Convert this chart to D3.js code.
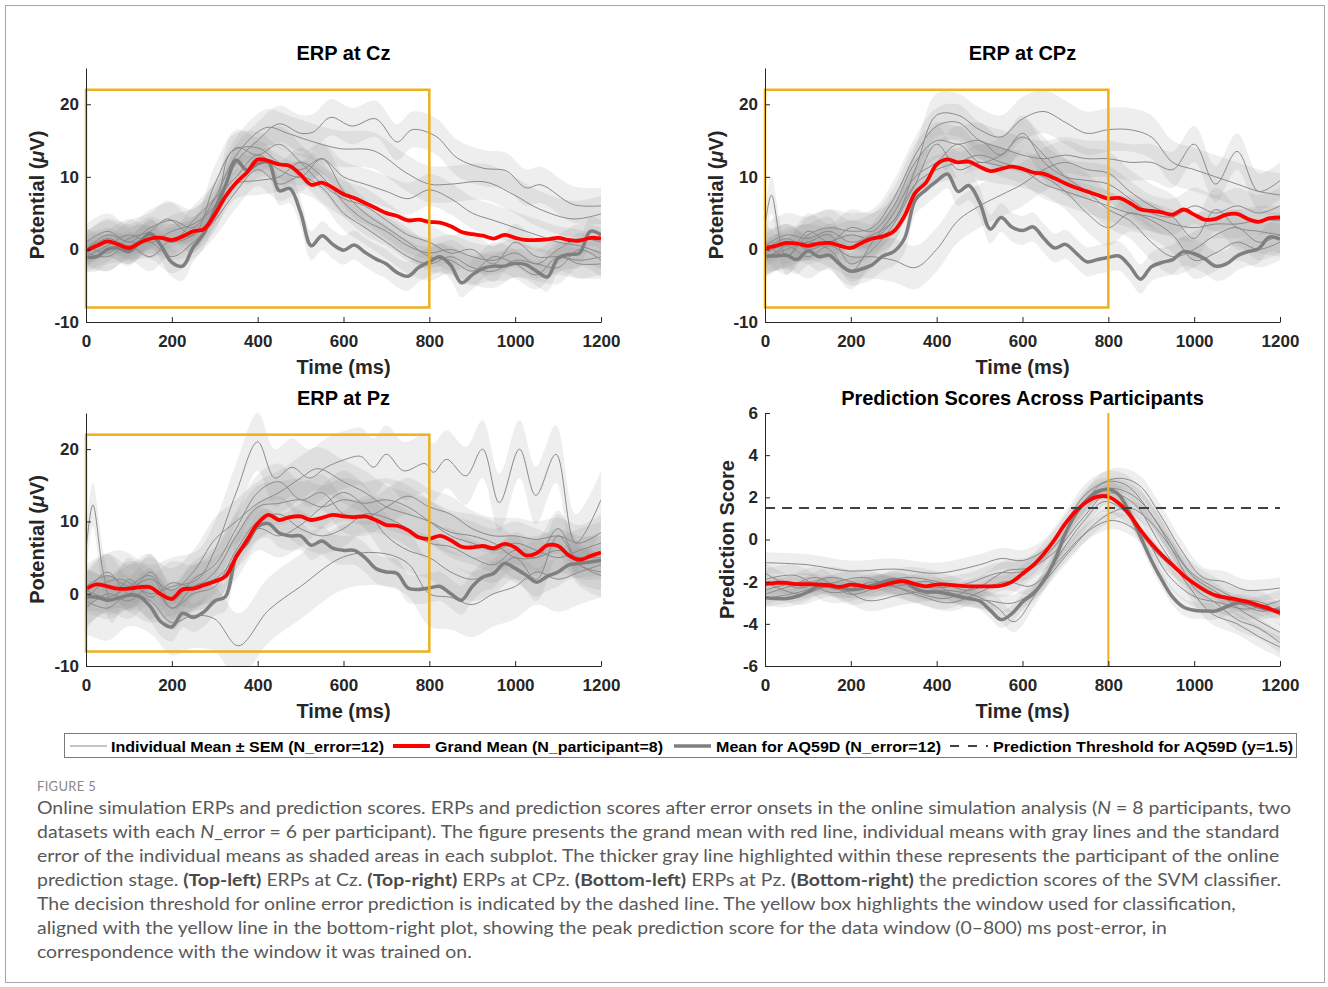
<!DOCTYPE html>
<html><head><meta charset="utf-8">
<script src="https://cdn.jsdelivr.net/npm/d3@7"></script>
<style>body{margin:0;background:#fff}svg{display:block}</style>
</head><body>
<svg id="fig" width="1328" height="987"></svg>
<script>
// ---------------- DATA ----------------
const TIMES = [0,25,50,75,100,125,150,175,200,225,250,275,300,325,350,375,400,425,450,475,500,525,550,575,600,625,650,675,700,725,750,775,800,825,850,875,900,925,950,975,1000,1025,1050,1075,1100,1125,1150,1175,1200];
const X_TICKS = [0,200,400,600,800,1000,1200];
const ERP_Y_TICKS = [-10,0,10,20];
const PRED_Y_TICKS = [-6,-4,-2,0,2,4,6];
const TITLES = ['ERP at Cz','ERP at CPz','ERP at Pz','Prediction Scores Across Participants'];

// Grand means (red)
const CZ_GRAND = [-0.2,0.5,1.1,0.7,0.2,0.9,1.5,1.6,1.3,1.8,2.5,2.8,4.8,7.3,9.2,10.6,12.4,12.2,11.7,11.5,10.3,8.9,9.2,8.5,7.6,7.1,6.4,5.7,5.0,4.6,4.0,4.1,3.8,3.7,3.2,2.4,2.1,1.9,1.5,2.0,1.6,1.3,1.3,1.4,1.6,1.3,1.2,1.6,1.5];
const CPZ_GRAND = [0.2,0.5,0.9,0.8,0.5,0.8,0.9,0.5,0.2,0.9,1.5,1.8,2.5,4.6,7.8,9.2,11.7,12.4,12.0,12.1,11.4,10.8,11.1,11.4,11.1,10.6,10.4,9.8,9.1,8.5,8.0,7.5,7.0,7.1,6.4,5.5,5.3,5.1,4.8,5.5,4.8,4.1,4.2,4.8,4.9,4.2,3.8,4.3,4.4];
const PZ_GRAND = [0.7,1.3,1.0,0.7,0.7,0.9,0.9,-0.1,-0.7,0.6,0.7,1.2,1.7,2.4,5.1,7.4,9.7,10.9,10.2,10.6,10.7,10.2,10.5,10.9,10.7,10.6,10.7,10.2,9.5,9.4,8.8,7.8,7.6,8.0,7.4,6.5,6.4,6.6,6.3,6.9,6.4,5.3,5.6,6.7,6.6,5.3,4.7,5.2,5.7];
const PRED_GRAND = [-2.12,-2.06,-2.06,-2.12,-2.12,-2.14,-2.17,-2.25,-2.14,-2.2,-2.28,-2.17,-2.04,-1.98,-2.12,-2.22,-2.14,-2.14,-2.19,-2.22,-2.22,-2.22,-2.19,-2.01,-1.62,-1.22,-0.67,0,0.76,1.36,1.79,2.03,2.03,1.71,1.16,0.44,-0.19,-0.74,-1.22,-1.7,-2.09,-2.41,-2.65,-2.76,-2.85,-2.96,-3.12,-3.28,-3.49];

// AQ59D participant means (thick gray)
const CZ_AQ = [-1.1,-1.0,0.0,0.2,-0.3,1.0,2.2,0.5,-1.8,-2.3,0.3,2.2,5.5,8.8,12.3,10.9,11.8,12.0,8.1,8.4,5.1,0.5,1.9,0.7,-0.1,0.6,-0.4,-1.3,-2.0,-3.2,-3.7,-2.5,-1.7,-1.0,-2.2,-4.6,-3.5,-2.6,-2.3,-2.3,-1.9,-2.1,-3.0,-3.8,-1.2,-0.7,-0.5,2.5,2.0];
const CPZ_AQ = [-0.9,-0.9,-0.8,-1.4,-0.2,-1.0,-0.8,-2.1,-3.0,-2.7,-2.1,-0.9,-0.3,1.5,6.8,8.2,9.4,10.4,8.0,8.8,6.5,2.8,4.4,3.1,2.6,3.1,1.5,0.2,0.7,-0.5,-1.7,-1.4,-1.1,-0.9,-2.3,-4.1,-2.4,-1.8,-1.4,-0.3,-0.6,-1.3,-2.3,-2.0,-0.9,-0.3,0.1,1.7,1.4];
const PZ_AQ = [-0.4,-0.5,-0.9,-0.6,-0.2,-0.4,-1.8,-3.9,-4.6,-2.7,-3.3,-2.5,-1.0,-0.4,5.2,7.0,9.3,9.7,8.4,8.0,8.0,6.7,7.3,6.3,6.0,6.0,5.0,3.5,3.0,2.8,0.8,0.6,0.8,1.0,0.0,-0.9,1.0,2.3,2.8,4.2,3.5,2.6,1.6,2.4,3.0,4.0,4.2,4.4,4.6];
const PRED_AQ = [-2.76,-2.8,-2.8,-2.69,-2.49,-2.22,-2.22,-2.28,-2.38,-2.33,-2.17,-2.01,-1.9,-2.01,-2.33,-2.49,-2.49,-2.57,-2.69,-2.8,-2.92,-3.36,-3.8,-3.52,-2.96,-2.57,-1.93,-0.98,0.29,1.24,1.87,2.27,2.38,2.11,1.24,0.13,-0.98,-1.93,-2.73,-3.2,-3.36,-3.39,-3.39,-3.2,-3.01,-3.04,-3.2,-3.33,-3.36];

// Other individual means (thin gray), [time, value] points
const CZ_INDIV = [
 [[0,0],[50,1.5],[100,0.5],[150,2],[200,1],[250,2],[300,5],[350,12],[400,15],[450,17.3],[500,16],[530,16.2],[570,18.2],[620,17],[675,18],[725,14.8],[760,16.5],[815,15.6],[865,12.6],[925,11.2],[980,10.8],[1025,8.5],[1060,8.9],[1135,6.2],[1200,6]],
 [[0,1],[50,2.5],[100,1],[150,3],[200,4],[250,3],[300,7],[350,13],[420,16.8],[470,16],[520,15],[590,13.9],[670,13.6],[745,10.6],[800,9],[850,9],[930,9.3],[995,7.6],[1055,5.6],[1135,4.2],[1200,4.9]],
 [[0,-1],[50,0.5],[100,2],[150,1],[200,2.5],[250,3.5],[300,6],[340,13.5],[400,14],[450,12],[500,11],[550,12.5],[600,10],[650,9],[700,8],[750,7],[800,8.2],[850,7],[900,5],[950,4],[1000,3],[1050,2],[1100,1],[1150,0.5],[1200,-0.5]],
 [[0,0.5],[50,-0.5],[100,1.5],[150,2.5],[190,4.2],[250,2],[300,9],[350,14],[400,13],[450,14.5],[500,12],[550,9],[600,7],[650,6],[700,4],[750,2],[800,1],[850,-0.5],[900,0],[950,-2],[1000,1],[1050,-1],[1100,-1],[1150,-1.5],[1200,-1]],
 [[0,0],[50,1],[100,0],[150,2],[200,1],[250,4],[300,7],[350,10],[400,13],[450,11],[500,10],[550,12.5],[600,8],[650,5],[700,3],[750,1],[800,-1],[850,-1.5],[900,-3],[950,-1],[1000,-2],[1050,-3.5],[1100,-1],[1150,-2],[1200,-2]],
 [[0,-0.5],[50,-1],[100,0.5],[150,-1],[200,1.5],[250,2],[300,5],[350,9],[400,9.5],[450,10],[500,12],[550,10],[600,6.5],[650,4],[700,2.5],[750,0.5],[800,-0.5],[850,0],[900,-1],[950,-1.5],[1000,-0.5],[1050,-2],[1100,0],[1150,1.5],[1200,1]],
 [[0,0],[50,2],[100,1],[150,1],[200,-1],[250,1],[300,4],[350,8],[400,11],[450,9],[500,10],[550,8.5],[600,5],[650,3],[700,1],[750,-1],[800,-2],[850,-1],[900,-2.5],[950,-3],[1000,-1.5],[1050,-2],[1100,-2.5],[1150,0],[1200,-1.5]]
];
const CPZ_INDIV = [
 [[0,0.5],[50,2],[100,1.5],[150,2.5],[200,1],[250,2],[300,4],[350,11],[400,18.5],[450,18.5],[500,16.5],[550,15.5],[600,18],[650,19],[700,17.5],[750,16],[800,16.5],[850,16.5],[900,15.5],[950,12],[1000,11],[1050,10],[1100,9],[1150,8],[1200,7.5]],
 [[0,1],[50,-1],[100,2],[150,3],[200,2.5],[250,3],[300,7],[350,13],[400,17],[450,17.5],[500,15],[550,14],[600,13],[650,12.5],[700,13],[750,12.5],[800,12.5],[850,12],[900,12],[950,11],[1000,14.5],[1050,9],[1100,13.5],[1150,8],[1200,9.5]],
 [[0,3],[15,7.5],[50,-1],[100,2.5],[150,1],[200,3],[250,2.5],[300,6],[350,12],[400,15],[450,14.5],[500,15],[550,13],[600,16],[650,12],[700,10],[750,9.5],[800,9],[850,7],[900,5],[950,4.5],[1000,6],[1050,5],[1100,6],[1150,5],[1200,6]],
 [[0,-1],[50,0],[100,1],[150,0],[200,-3],[250,1],[300,5],[350,10],[400,12],[450,14.5],[500,12],[550,13],[600,15.5],[650,13],[700,10],[750,8],[800,5.5],[850,4],[900,1],[950,-1],[1000,0],[1050,2],[1100,3],[1150,1],[1200,2]],
 [[0,0],[50,1.5],[100,0],[150,1],[200,2],[250,1.5],[300,4],[350,9],[400,11],[450,12],[500,13],[550,12],[600,11],[650,9],[700,8],[750,7],[800,6],[850,5],[900,4.5],[950,3.5],[1000,3],[1050,3.5],[1100,3.5],[1150,4],[1200,4]],
 [[0,-0.5],[50,0.5],[100,-1],[150,0.5],[200,-1],[250,-1],[300,-1.5],[350,-2.5],[400,0],[450,4],[500,6],[550,7.5],[600,9],[650,11],[700,12],[750,11],[800,10.5],[850,8],[900,6],[950,4.5],[1000,1.5],[1050,5.5],[1100,3],[1150,2.5],[1200,2]],
 [[0,-1.5],[50,0.5],[100,1],[150,2],[200,-2],[250,0],[300,3.5],[350,9],[400,14.5],[450,11],[500,12],[550,11.5],[600,11],[650,10],[700,8],[750,5],[800,3],[850,5],[900,4],[950,2],[1000,-1.5],[1050,-0.5],[1100,1],[1150,0],[1200,1]]
];
const PZ_INDIV = [
 [[0,-1],[30,1],[80,2],[150,0],[200,1],[260,2],[300,6],[350,14],[400,21],[440,16],[480,17.5],[520,16],[560,17.5],[600,18.5],[640,19],[670,17.5],[700,19.3],[740,17],[790,18],[810,16.8],[840,18.6],[885,16.3],[924,20],[963,12.6],[1010,20],[1048,13.6],[1095,19.3],[1141,7],[1200,13]],
 [[0,6],[16,12.3],[40,3],[60,-1],[100,2],[150,-0.5],[200,1.5],[250,1],[300,3],[350,8],[400,12],[450,12.5],[500,13],[550,12],[600,13],[650,12.5],[700,13],[750,12],[800,10],[850,8],[900,7],[950,6],[1000,7],[1050,6],[1100,5],[1150,6],[1200,7]],
 [[0,0],[50,3],[100,0],[150,3],[200,-1],[250,2],[300,4],[350,9],[400,14],[450,15.5],[500,13],[550,14],[600,11],[650,10.5],[700,12],[750,13.5],[800,12],[850,11],[900,9],[950,8],[1000,8],[1050,7.5],[1100,8],[1150,7],[1200,8.5]],
 [[0,-1],[50,-2],[100,0],[150,-1],[200,-4],[250,-3],[300,-3.5],[355,-7.2],[425,-2.3],[500,1],[600,5.1],[690,5.6],[750,4.2],[800,0],[850,-0.5],[900,-1.5],[950,0],[1000,1],[1050,3],[1100,2],[1150,3],[1200,4]],
 [[0,1],[50,2.5],[100,1],[150,2],[200,0.5],[250,3],[300,7.5],[350,10],[400,12.5],[450,14],[500,16],[540,17.3],[600,15.5],[650,14],[700,12],[750,11],[800,10],[850,8.5],[900,8],[950,7],[1000,5],[1050,5],[1100,6],[1150,5],[1200,5]],
 [[0,-2],[50,0],[100,-1],[150,1],[200,-2],[250,0],[300,1],[350,6],[400,10],[450,11],[500,9],[550,8],[600,9],[650,11],[700,10.5],[750,9],[800,7],[850,6.5],[900,5],[950,4],[1000,6],[1050,5],[1100,9],[1150,4],[1200,3]],
 [[0,0.5],[50,-0.5],[100,1],[150,2.5],[200,-2],[250,1],[300,2],[350,5],[400,9],[450,8],[500,9.5],[550,12],[600,14],[650,12],[700,8],[750,6],[800,5],[850,3],[900,2],[950,3],[1000,5],[1050,2],[1100,8],[1150,4],[1200,2.5]]
];
const PRED_INDIV = [
 [[0,-1.1],[100,-1.2],[200,-1.5],[300,-1.4],[400,-1.6],[500,-1.2],[550,-0.9],[600,-1.0],[650,-0.5],[700,0.8],[750,2.2],[820,2.9],[870,2.6],[920,1.2],[970,-0.5],[1020,-1.8],[1070,-2.0],[1120,-2.4],[1200,-2.3]],
 [[0,-1.6],[80,-2.3],[150,-1.8],[250,-2.2],[330,-1.8],[400,-2.0],[480,-2.4],[560,-1.5],[620,-1.3],[680,-0.2],[740,1.6],[790,2.7],[840,2.6],[900,1.2],[960,-0.9],[1000,-2.3],[1050,-3.0],[1100,-3.8],[1150,-4.2],[1200,-4.9]],
 [[0,-2.6],[60,-2.2],[120,-1.8],[200,-2.6],[280,-2.2],[350,-2.5],[420,-2.8],[500,-2.2],[560,-2.2],[620,-1.4],[680,-0.5],[740,1.0],[800,2.2],[860,1.7],[920,-0.2],[980,-2.0],[1040,-3.5],[1100,-4.0],[1150,-4.6],[1200,-5.1]],
 [[0,-2.0],[80,-2.6],[160,-2.2],[240,-2.9],[320,-2.6],[400,-2.4],[480,-2.6],[540,-3.2],[580,-3.9],[630,-2.6],[690,-0.6],[740,0.8],[790,1.8],[840,1.3],[890,0.0],[940,-1.7],[1000,-2.7],[1060,-3.0],[1120,-3.3],[1200,-2.9]],
 [[0,-2.4],[100,-2.0],[180,-2.4],[260,-2.0],[350,-2.6],[430,-3.0],[500,-2.5],[560,-2.0],[620,-2.2],[680,-1.1],[740,0.2],[800,1.2],[850,1.5],[900,0.8],[950,-0.5],[1000,-1.8],[1060,-2.6],[1120,-3.5],[1200,-4.4]],
 [[0,-2.8],[80,-2.5],[150,-2.1],[230,-1.8],[300,-2.2],[380,-2.0],[450,-2.7],[520,-2.9],[580,-3.0],[640,-2.2],[700,-0.8],[760,0.5],[810,0.9],[860,0.5],[920,-0.8],[980,-1.8],[1040,-2.6],[1100,-3.0],[1160,-3.4],[1200,-3.2]],
 [[0,-1.9],[70,-1.7],[150,-2.5],[230,-2.3],[310,-2.1],[390,-2.3],[470,-2.1],[540,-1.6],[600,-1.5],[660,-0.4],[720,1.2],[770,2.3],[820,2.4],[870,1.9],[930,0.3],[990,-1.5],[1050,-2.3],[1100,-2.8],[1160,-3.0],[1200,-3.6]]
];
// SEM (half-width of shaded band) per individual; last entry = AQ59D
const CZ_SEM = [2.5,2.5,2.2,2.5,2.0,2.0,2.3,2.0];
const CPZ_SEM = [3.0,2.5,2.5,2.5,2.0,3.0,2.5,2.0];
const PZ_SEM = [4.0,3.0,2.5,4.5,3.0,2.5,3.0,2.0];
const PRED_SEM = [0.5,0.5,0.5,0.5,0.4,0.4,0.5,0.4];
const WINDOW_MS = [0,800];
const WINDOW_UV = [-8,22];
const THRESHOLD = 1.5;
const LEGEND_LABELS = ['Individual Mean \u00b1 SEM (N_error=12)','Grand Mean (N_participant=8)','Mean for AQ59D (N_error=12)','Prediction Threshold for AQ59D (y=1.5)'];

// ---------------- DRAW ----------------
const svg = d3.select('#fig');
const FONT = "'Liberation Sans', Arial, Helvetica, sans-serif";
const AX = '#262626';
const YELLOW = '#EDB120';

svg.append('rect').attr('x',5.5).attr('y',5.5).attr('width',1319).attr('height',977)
  .attr('fill','#fff').attr('stroke','#a8a8a8').attr('stroke-width',1);

const defs = svg.append('defs');

function panel(o){
  const x = d3.scaleLinear().domain([0,1200]).range([o.x0,o.x1]);
  const y = d3.scaleLinear().domain(o.yDomain).range([o.yBot,o.yTop]);
  const clipId = 'clip_'+o.id;
  defs.append('clipPath').attr('id',clipId).append('rect')
    .attr('x',o.x0).attr('y',o.yTop).attr('width',o.x1-o.x0).attr('height',o.yBot-o.yTop);
  const g = svg.append('g');
  const plot = g.append('g').attr('clip-path',`url(#${clipId})`);
  const curve = d3.curveCatmullRom.alpha(0.5);
  const aqPts = TIMES.map((t,i)=>[t,o.aq[i]]);
  const gmPts = TIMES.map((t,i)=>[t,o.grand[i]]);
  const allIndiv = o.indiv.concat([aqPts]);
  // bands
  allIndiv.forEach((pts,i)=>{
    const s = o.sem[i];
    const area = d3.area().x(d=>x(d[0])).y0(d=>y(d[1]-s)).y1(d=>y(d[1]+s)).curve(curve);
    plot.append('path').attr('d',area(pts)).attr('fill','#8c8c8c').attr('fill-opacity',0.15).attr('stroke','none');
  });
  const line = d3.line().x(d=>x(d[0])).y(d=>y(d[1])).curve(curve);
  o.indiv.forEach(pts=>{
    plot.append('path').attr('d',line(pts)).attr('fill','none').attr('stroke','#8a8a8a').attr('stroke-width',1);
  });
  if(o.box){
    g.append('rect').attr('x',x(WINDOW_MS[0])).attr('y',y(WINDOW_UV[1]))
      .attr('width',x(WINDOW_MS[1])-x(WINDOW_MS[0])).attr('height',y(WINDOW_UV[0])-y(WINDOW_UV[1]))
      .attr('fill','none').attr('stroke',YELLOW).attr('stroke-width',2.5);
  }
  plot.append('path').attr('d',line(aqPts)).attr('fill','none').attr('stroke','#7f7f7f').attr('stroke-width',3.5).attr('stroke-linejoin','round');
  plot.append('path').attr('d',line(gmPts)).attr('fill','none').attr('stroke','#ff0000').attr('stroke-width',3.8).attr('stroke-linejoin','round');
  if(o.pred){
    g.append('line').attr('x1',x(0)).attr('x2',x(1200)).attr('y1',y(THRESHOLD)).attr('y2',y(THRESHOLD))
      .attr('stroke','#404040').attr('stroke-width',2).attr('stroke-dasharray','10,7');
    g.append('line').attr('x1',x(WINDOW_MS[1])).attr('x2',x(WINDOW_MS[1])).attr('y1',o.yTop).attr('y2',o.yBot)
      .attr('stroke',YELLOW).attr('stroke-width',2);
  }
  // axes
  const xa = d3.axisBottom(x).tickValues(X_TICKS).tickSizeInner(-5).tickSizeOuter(0).tickPadding(13).tickFormat(d=>String(d));
  const ya = d3.axisLeft(y).tickValues(o.yTicks).tickSizeInner(-5).tickSizeOuter(0).tickPadding(7).tickFormat(d=>String(d));
  [g.append('g').attr('transform',`translate(0,${o.yBot})`).call(xa),
   g.append('g').attr('transform',`translate(${o.x0},0)`).call(ya)].forEach(ax=>{
    ax.attr('font-family',FONT).attr('font-size',17).attr('font-weight','bold');
    ax.select('.domain').attr('stroke',AX).attr('stroke-width',1);
    ax.selectAll('.tick line').attr('stroke',AX).attr('stroke-width',1);
    ax.selectAll('.tick text').attr('fill',AX);
  });
  const cx = (o.x0+o.x1)/2;
  g.append('text').attr('x',cx).attr('y',o.yTop-8).attr('text-anchor','middle')
    .attr('font-family',FONT).attr('font-weight','bold').attr('font-size',20).attr('fill','#000').text(o.title);
  g.append('text').attr('x',cx).attr('y',o.yBot+52).attr('text-anchor','middle')
    .attr('font-family',FONT).attr('font-weight','bold').attr('font-size',20).attr('fill',AX).text('Time (ms)');
  const yl = g.append('text').attr('transform',`translate(${o.ylx},${(o.yTop+o.yBot)/2}) rotate(-90)`)
    .attr('text-anchor','middle').attr('font-family',FONT).attr('font-weight','bold').attr('font-size',20).attr('fill',AX);
  if(o.pred){ yl.text('Prediction Score'); }
  else { yl.append('tspan').text('Potential ('); yl.append('tspan').attr('font-style','italic').text('\u03bc'); yl.append('tspan').text('V)'); }
}

panel({id:'cz',x0:86,x1:601,yTop:68,yBot:322,yDomain:[-10,25],yTicks:ERP_Y_TICKS,title:TITLES[0],
  grand:CZ_GRAND,aq:CZ_AQ,indiv:CZ_INDIV,sem:CZ_SEM,box:true,ylx:44});
panel({id:'cpz',x0:765,x1:1280,yTop:68,yBot:322,yDomain:[-10,25],yTicks:ERP_Y_TICKS,title:TITLES[1],
  grand:CPZ_GRAND,aq:CPZ_AQ,indiv:CPZ_INDIV,sem:CPZ_SEM,box:true,ylx:723});
panel({id:'pz',x0:86,x1:601,yTop:413,yBot:666,yDomain:[-10,25],yTicks:ERP_Y_TICKS,title:TITLES[2],
  grand:PZ_GRAND,aq:PZ_AQ,indiv:PZ_INDIV,sem:PZ_SEM,box:true,ylx:44});
panel({id:'pred',x0:765,x1:1280,yTop:413,yBot:666,yDomain:[-6,6],yTicks:PRED_Y_TICKS,title:TITLES[3],
  grand:PRED_GRAND,aq:PRED_AQ,indiv:PRED_INDIV,sem:PRED_SEM,box:false,pred:true,ylx:734});

// legend
const lg = svg.append('g');
lg.append('rect').attr('x',64.5).attr('y',733.5).attr('width',1232).attr('height',24)
  .attr('fill','#fff').attr('stroke','#7a7a7a').attr('stroke-width',1);
const legSamples = [[70,107,'#8a8a8a',1,null],[393,430,'#ff0000',3.8,null],[674,711,'#7f7f7f',3.5,null],[950,988,'#404040',2,'9,9']];
const legText = [[111,384],[435,663],[716,941],[993,1293]];
LEGEND_LABELS.forEach((lab,i)=>{
  const s = legSamples[i];
  const l = lg.append('line').attr('x1',s[0]).attr('x2',s[1]).attr('y1',746).attr('y2',746).attr('stroke',s[2]).attr('stroke-width',s[3]);
  if(s[4]) l.attr('stroke-dasharray',s[4]);
  lg.append('text').attr('x',legText[i][0]).attr('y',751.5).attr('font-family',FONT).attr('font-weight','bold')
    .attr('font-size',15).attr('fill','#000').attr('textLength',legText[i][1]-legText[i][0]).attr('lengthAdjust','spacingAndGlyphs').text(lab);
});

// caption
const CAP_FONT = "Lato, 'Open Sans', sans-serif";
svg.append('text').attr('x',37).attr('y',791).attr('font-family',CAP_FONT).attr('font-size',13)
  .attr('fill','#8a8a8a').attr('letter-spacing',0.3).text('FIGURE 5');
const capLines = [
 [['Online simulation ERPs and prediction scores. ERPs and prediction scores after error onsets in the online simulation analysis (',''],['N','i'],[' = 8 participants, two','']],
 [['datasets with each ',''],['N','i'],['_error = 6 per participant). The figure presents the grand mean with red line, individual means with gray lines and the standard','']],
 [['error of the individual means as shaded areas in each subplot. The thicker gray line highlighted within these represents the participant of the online','']],
 [['prediction stage. ',''],['(Top-left)','b'],[' ERPs at Cz. ',''],['(Top-right)','b'],[' ERPs at CPz. ',''],['(Bottom-left)','b'],[' ERPs at Pz. ',''],['(Bottom-right)','b'],[' the prediction scores of the SVM classifier.','']],
 [['The decision threshold for online error prediction is indicated by the dashed line. The yellow box highlights the window used for classification,','']],
 [['aligned with the yellow line in the bottom-right plot, showing the peak prediction score for the data window (0\u2013800) ms post-error, in','']],
 [['correspondence with the window it was trained on.','']]
];
const capNodes = capLines.map((segs,i)=>{
  const t = svg.append('text').attr('x',37).attr('y',814+i*24).attr('font-family',CAP_FONT)
    .attr('font-size',17).attr('fill','#595959');
  segs.forEach(s=>{
    const sp = t.append('tspan').text(s[0]);
    if(s[1]==='i') sp.attr('font-style','italic');
    if(s[1]==='b') sp.attr('font-weight','bold').attr('fill','#4a4a4a');
  });
  return t;
});
const w0 = capNodes[0].node().getComputedTextLength();
const r = (1291-37)/w0;
capNodes.forEach(t=>{
  const w = t.node().getComputedTextLength();
  t.attr('textLength',w*r).attr('lengthAdjust','spacingAndGlyphs');
});
</script>
</body></html>
